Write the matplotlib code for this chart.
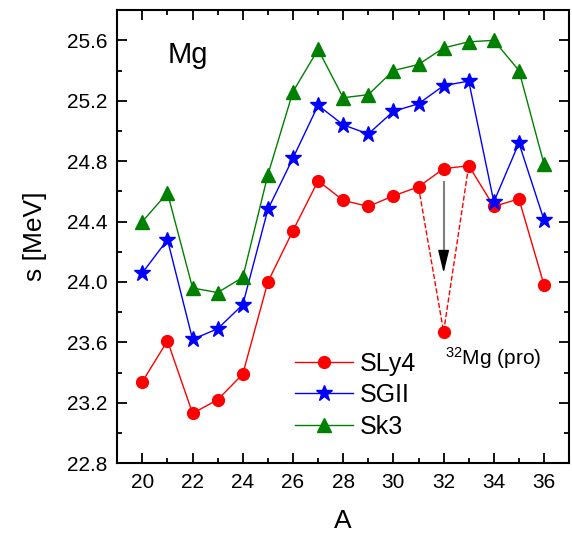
import numpy as np
import matplotlib
matplotlib.use('Agg')
import matplotlib.pyplot as plt
from matplotlib.ticker import MultipleLocator

plt.rcParams['font.family'] = ['Liberation Sans', 'DejaVu Sans']
plt.rcParams['mathtext.fontset'] = 'custom'
plt.rcParams['mathtext.rm'] = 'Liberation Sans'
plt.rcParams['mathtext.it'] = 'Liberation Sans'

# mass number A
A = [20, 21, 22, 23, 24, 25, 26, 27, 28, 29, 30, 31, 32, 33, 34, 35, 36]

# s values (MeV) for each force
sly4 = [23.34, 23.61, 23.13, 23.22, 23.39, 24.00, 24.34, 24.67, 24.54, 24.50,
        24.57, 24.63, 24.75, 24.77, 24.50, 24.55, 23.98]
sgii = [24.06, 24.28, 23.62, 23.69, 23.85, 24.48, 24.82, 25.17, 25.04, 24.98,
        25.13, 25.18, 25.30, 25.33, 24.53, 24.92, 24.41]
sk3 = [24.40, 24.59, 23.96, 23.93, 24.03, 24.71, 25.26, 25.54, 25.22, 25.24,
       25.40, 25.44, 25.55, 25.59, 25.60, 25.40, 24.78]

# 32Mg prolate point (SLy4)
pro_A = 32
pro_s = 23.67

fig = plt.figure(figsize=(5.72, 5.33), dpi=100)
ax = fig.add_axes([0.205, 0.131, 0.790, 0.850])

ax.plot(A, sly4, '-o', color='red', lw=1.0, ms=8.5, label='SLy4')
ax.plot(A, sgii, '-*', color='blue', lw=1.0, ms=12, label='SGII')
ax.plot(A, sk3, '-^', color='green', lw=1.0, ms=10, label='Sk3')

# dashed lines to the prolate point
i31 = A.index(31)
i33 = A.index(33)
ax.plot([A[i31], pro_A, A[i33]], [sly4[i31], pro_s, sly4[i33]], '--', color='red', lw=1.0)
ax.plot([pro_A], [pro_s], 'o', color='red', ms=8.5)

# arrow (gray shaft, black head)
ax.plot([32, 32], [24.66, 24.12], color='gray', lw=1.5)
ax.annotate('', xy=(32, 24.06), xytext=(32, 24.16),
            arrowprops=dict(arrowstyle='-|>,head_length=0.7,head_width=0.17',
                            mutation_scale=20, fc='black', ec='black', lw=1.0,
                            shrinkA=0, shrinkB=0))

ax.text(32.05, 23.45, r'$^{32}$Mg (pro)', fontsize=15, ha='left', va='baseline')
ax.text(21.0, 25.45, 'Mg', fontsize=21, ha='left', va='baseline')

ax.set_xlim(19, 37)
ax.set_ylim(22.8, 25.8)
ax.xaxis.set_major_locator(MultipleLocator(2))
ax.xaxis.set_minor_locator(MultipleLocator(1))
ax.yaxis.set_major_locator(MultipleLocator(0.4))
ax.yaxis.set_minor_locator(MultipleLocator(0.2))
ax.yaxis.set_major_formatter(matplotlib.ticker.FormatStrFormatter('%.1f'))
ax.tick_params(which='both', direction='in', top=True, right=True, labelsize=15, width=1.3)
ax.tick_params(which='major', length=7, pad=7)
ax.tick_params(which='minor', length=3.5)
for sp in ax.spines.values():
    sp.set_linewidth(1.5)

ax.set_xlabel('A', fontsize=19, labelpad=12)
ax.set_ylabel('s [MeV]', fontsize=19, labelpad=14)

ax.legend(loc='upper left', bbox_to_anchor=(0.355, 0.285), frameon=False, fontsize=18,
          handlelength=2.3, handletextpad=0.3, labelspacing=0.3, borderpad=0.2)

plt.savefig('out.png', dpi=100)
